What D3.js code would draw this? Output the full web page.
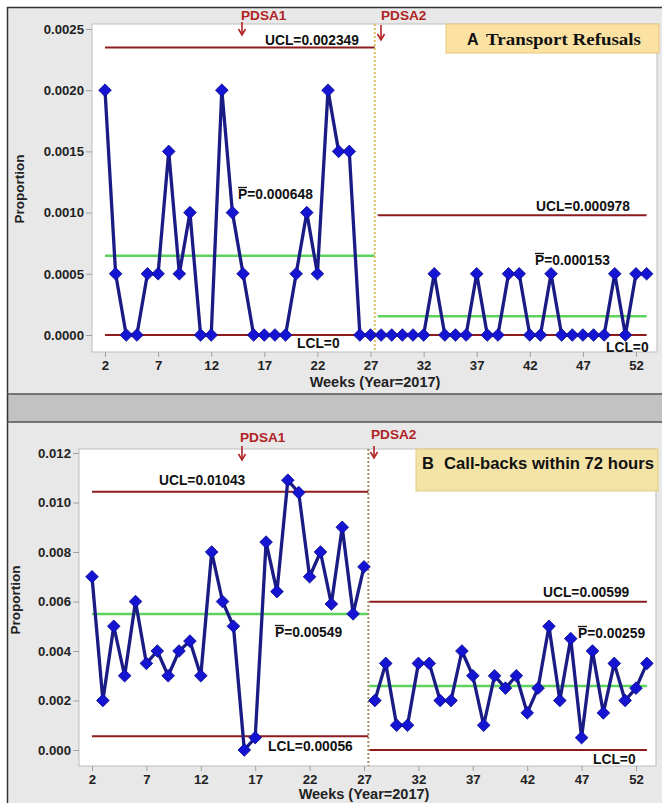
<!DOCTYPE html>
<html><head><meta charset="utf-8">
<script src="https://cdn.jsdelivr.net/npm/d3@7"></script>
<style>
body{margin:0;background:#fff;}
svg{display:block;font-family:"Liberation Sans",Arial,sans-serif;}
</style></head>
<body>
<script>
// ---------------- DATA ----------------
const weeks = [2,3,4,5,6,7,8,9,10,11,12,13,14,15,16,17,18,19,20,21,22,23,24,25,26,27,
  28,29,30,31,32,33,34,35,36,37,38,39,40,41,42,43,44,45,46,47,48,49,50,51,52,53];
const phaseSplitWeek = 27.4;

// Panel A: Transport refusals (proportion)
const refusals = [0.002,0.0005,0,0,0.0005,0.0005,0.0015,0.0005,0.001,0,0,0.002,0.001,0.0005,0,0,0,0,0.0005,0.001,0.0005,0.002,0.0015,0.0015,0,0,
  0,0,0,0,0,0.0005,0,0,0,0.0005,0,0,0.0005,0.0005,0,0,0.0005,0,0,0,0,0,0.0005,0,0.0005,0.0005];
const refusalsLimits = [ // phase 1, phase 2
  {ucl:0.002349, cl:0.000648, lcl:0, uclLabel:"UCL=0.002349", clLabel:"=0.000648", lclLabel:"LCL=0"},
  {ucl:0.000978, cl:0.000153, lcl:0, uclLabel:"UCL=0.000978", clLabel:"=0.000153", lclLabel:"LCL=0"}
];
const refusalsYTicks = [0,0.0005,0.001,0.0015,0.002,0.0025];
const refusalsYLabels = ["0.0000","0.0005","0.0010","0.0015","0.0020","0.0025"];

// Panel B: Call-backs within 72 hours (proportion)
const callbacks = [0.007,0.002,0.005,0.003,0.006,0.0035,0.004,0.003,0.004,0.0044,0.003,0.008,0.006,0.005,0,0.0005,0.0084,0.0064,0.0109,0.0104,0.007,0.008,0.0059,0.009,0.0055,0.0074,
  0.002,0.0035,0.001,0.001,0.0035,0.0035,0.002,0.002,0.004,0.003,0.001,0.003,0.0025,0.003,0.0015,0.0025,0.005,0.002,0.0045,0.0005,0.004,0.0015,0.0035,0.002,0.0025,0.0035];
const callbacksLimits = [
  {ucl:0.01043, cl:0.00549, lcl:0.00056, uclLabel:"UCL=0.01043", clLabel:"=0.00549", lclLabel:"LCL=0.00056"},
  {ucl:0.00599, cl:0.00259, lcl:0, uclLabel:"UCL=0.00599", clLabel:"=0.00259", lclLabel:"LCL=0"}
];
const callbacksYTicks = [0,0.002,0.004,0.006,0.008,0.010,0.012];
const callbacksYLabels = ["0.000","0.002","0.004","0.006","0.008","0.010","0.012"];

const xTicks = [2,7,12,17,22,27,32,37,42,47,52];
const xTitle = "Weeks (Year=2017)";
const yTitle = "Proportion";
const pdsaLabels = ["PDSA1","PDSA2"];
const titleA = ["A", "Transport  Refusals"];
const titleB = ["B", "Call-backs within 72 hours"];

// ---------------- DRAW ----------------
const W = 662, H = 803;
const svg = d3.select("body").append("svg").attr("width", W).attr("height", H);

// frame / panels
svg.append("rect").attr("x",7).attr("y",7).attr("width",W-7).attr("height",387).attr("fill","#e8e8e8");
svg.append("rect").attr("x",7).attr("y",394).attr("width",W-7).attr("height",28).attr("fill","#c2c2c2");
svg.append("rect").attr("x",7).attr("y",422).attr("width",W-7).attr("height",H-422).attr("fill","#e8e8e8");
svg.append("line").attr("x1",7).attr("x2",W).attr("y1",7.5).attr("y2",7.5).attr("stroke","#333").attr("stroke-width",1.5);
svg.append("line").attr("x1",7.5).attr("x2",7.5).attr("y1",7).attr("y2",H).attr("stroke","#333").attr("stroke-width",1.5);
svg.append("line").attr("x1",7).attr("x2",W).attr("y1",394).attr("y2",394).attr("stroke","#555").attr("stroke-width",1.5);
svg.append("line").attr("x1",7).attr("x2",W).attr("y1",422).attr("y2",422).attr("stroke","#555").attr("stroke-width",1.5);

const RED = "#8e1c1c", GREEN = "#5dd35d", NAVY = "#1b1b86", BLUE = "#1414d2", PDSA = "#b02424";

function panel(cfg){
  const g = svg.append("g");
  const x = d3.scaleLinear().domain([2,52]).range(cfg.xr);
  const y = d3.scaleLinear().domain(cfg.yd).range(cfg.yr);
  const P = cfg.plot;
  g.append("rect").attr("x",P.x0).attr("y",P.y0).attr("width",P.x1-P.x0).attr("height",P.y1-P.y0)
    .attr("fill","#fff").attr("stroke","#bdbdbd").attr("stroke-width",1);

  // axes
  const ya = g.append("g").attr("transform",`translate(${P.x0},0)`)
    .call(d3.axisLeft(y).tickValues(cfg.yTicks).tickFormat((d,i)=>cfg.yLabels[i]).tickSize(6).tickPadding(2));
  const xa = g.append("g").attr("transform",`translate(0,${P.y1})`)
    .call(d3.axisBottom(x).tickValues(xTicks).tickSize(5).tickPadding(4));
  [ya,xa].forEach(a=>{
    a.select(".domain").remove();
    a.selectAll("line").attr("stroke","#a0a0a0");
    a.selectAll("text").attr("font-size",13.2).attr("font-weight","bold").attr("fill","#222")
      .attr("font-family","Liberation Sans, Arial, sans-serif");
  });

  g.append("text").attr("x",cfg.xTitle[0]).attr("y",cfg.xTitle[1]).attr("text-anchor","middle")
    .attr("font-size",14.5).attr("font-weight","bold").attr("fill","#222").text(xTitle);
  g.append("text").attr("transform",`translate(${cfg.yTitle[0]},${cfg.yTitle[1]}) rotate(-90)`)
    .attr("text-anchor","middle").attr("font-size",13.5).attr("font-weight","bold").attr("fill","#222").text(yTitle);

  // control limits
  cfg.limits.forEach((L,i)=>{
    const xs = i===0 ? [x(2), x(phaseSplitWeek)] : [x(phaseSplitWeek)+cfg.gap2, x(53)];
    [["ucl",RED,2],["lcl",RED,2],["cl",GREEN,2.5]].forEach(([k,c,w])=>{
      g.append("line").attr("x1",xs[0]).attr("x2",xs[1]).attr("y1",y(L[k])).attr("y2",y(L[k]))
        .attr("stroke",c).attr("stroke-width",w);
    });
  });

  // PDSA2 dotted line
  g.append("line").attr("x1",x(phaseSplitWeek)).attr("x2",x(phaseSplitWeek)).attr("y1",P.y0).attr("y2",P.y1)
    .attr("stroke",cfg.splitColor).attr("stroke-width",2).attr("stroke-dasharray","2,2");

  // data lines (two phases)
  const pts = weeks.map((w,i)=>({w, v:cfg.values[i]}));
  const line = d3.line().x(d=>x(d.w)).y(d=>y(d.v));
  [pts.filter(d=>d.w<phaseSplitWeek), pts.filter(d=>d.w>phaseSplitWeek)].forEach(seg=>{
    g.append("path").attr("d",line(seg)).attr("fill","none").attr("stroke",NAVY).attr("stroke-width",3.3)
      .attr("stroke-linejoin","round");
  });
  const sym = d3.symbol(d3.symbolSquare, 80);
  g.selectAll(".pt").data(pts).join("path").attr("class","pt")
    .attr("transform",d=>`translate(${x(d.w)},${y(d.v)}) rotate(45)`)
    .attr("d",sym).attr("fill",BLUE).attr("stroke","#0c0c90").attr("stroke-width",0.8);

  // labels
  const lab = (t,px,py)=>g.append("text").attr("x",px).attr("y",py)
    .attr("font-size",13.8).attr("font-weight","bold").attr("fill","#111").text(t);
  cfg.labelPos.forEach((lp,i)=>{
    const L = cfg.limits[i];
    lab(L.uclLabel, lp.ucl[0], lp.ucl[1]);
    const t = g.append("text").attr("x",lp.cl[0]).attr("y",lp.cl[1]).attr("font-size",13.8).attr("font-weight","bold").attr("fill","#111");
    t.append("tspan").text("P");
    t.append("tspan").text(L.clLabel);
    g.append("line").attr("x1",lp.cl[0]).attr("x2",lp.cl[0]+9).attr("y1",lp.cl[1]-11.5).attr("y2",lp.cl[1]-11.5)
      .attr("stroke","#111").attr("stroke-width",1.3);
    lab(L.lclLabel, lp.lcl[0], lp.lcl[1]);
  });

  // PDSA markers
  cfg.pdsa.forEach((p,i)=>{
    g.append("text").attr("x",p.tx).attr("y",p.ty).attr("font-size",13.6).attr("font-weight","bold")
      .attr("fill",PDSA).text(pdsaLabels[i]);
    g.append("line").attr("x1",p.ax).attr("x2",p.ax).attr("y1",p.a0).attr("y2",p.a1-1)
      .attr("stroke",PDSA).attr("stroke-width",1.6);
    g.append("path").attr("d",`M${p.ax-3.5},${p.a1-6}L${p.ax},${p.a1}L${p.ax+3.5},${p.a1-6}`)
      .attr("fill","none").attr("stroke",PDSA).attr("stroke-width",1.6);
  });

  // title box
  const T = cfg.title;
  g.append("rect").attr("x",T.x).attr("y",T.y).attr("width",T.w).attr("height",T.h)
    .attr("fill",T.fill).attr("stroke",T.stroke).attr("stroke-width",1);
  T.draw(g);
}

panel({
  xr:[105,636], yd:[0,0.0025], yr:[335,29],
  plot:{x0:92,x1:657,y0:24,y1:352},
  yTicks:refusalsYTicks, yLabels:refusalsYLabels,
  values:refusals, limits:refusalsLimits, gap2:3,
  splitColor:"#d9bf55",
  xTitle:[375,387], yTitle:[24,189],
  labelPos:[
    {ucl:[265,45], cl:[238,199], lcl:[297,348]},
    {ucl:[536,211], cl:[535,265], lcl:[606,352]}
  ],
  pdsa:[{tx:241,ty:20,ax:242,a0:22,a1:35},{tx:381,ty:20,ax:381,a0:25,a1:40}],
  title:{x:446,y:24,w:213,h:29,fill:"#fbe2a3",stroke:"#e8c77a",
    draw:g=>{
      g.append("text").attr("x",467).attr("y",45).attr("font-size",16).attr("font-weight","bold")
        .attr("fill","#111").text(titleA[0]);
      g.append("text").attr("x",486).attr("y",45).attr("font-size",17).attr("font-weight","bold")
        .attr("font-family","Liberation Serif, Times New Roman, serif").attr("fill","#111")
        .attr("textLength",155).attr("lengthAdjust","spacingAndGlyphs").text(titleA[1]);
    }}
});

panel({
  xr:[92,636], yd:[0,0.012], yr:[750,453],
  plot:{x0:79,x1:656,y0:449,y1:766},
  yTicks:callbacksYTicks, yLabels:callbacksYLabels,
  values:callbacks, limits:callbacksLimits, gap2:1,
  splitColor:"#a88a66",
  xTitle:[364,799], yTitle:[20,600],
  labelPos:[
    {ucl:[159,485], cl:[275,637], lcl:[268,751]},
    {ucl:[543,597], cl:[578,638], lcl:[593,764]}
  ],
  pdsa:[{tx:240,ty:442,ax:242,a0:446,a1:460},{tx:371,ty:439,ax:374,a0:446,a1:458}],
  title:{x:416,y:449,w:242,h:42,fill:"#f4e3a6",stroke:"#e2cb82",
    draw:g=>{
      g.append("text").attr("x",422).attr("y",469).attr("font-size",16.5).attr("font-weight","bold")
        .attr("fill","#111").text(titleB[0]);
      g.append("text").attr("x",444).attr("y",469).attr("font-size",16.5).attr("font-weight","bold")
        .attr("fill","#111").attr("textLength",210).attr("lengthAdjust","spacingAndGlyphs").text(titleB[1]);
    }}
});
</script>
</body></html>
